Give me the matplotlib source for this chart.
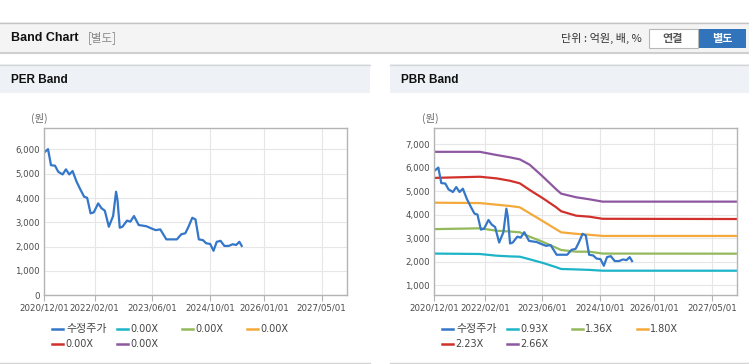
import pandas as pd
import matplotlib
matplotlib.use('Agg')
import matplotlib.pyplot as plt
import matplotlib.dates as mdates
from matplotlib.patches import Rectangle
from matplotlib.lines import Line2D

plt.rcParams['font.family'] = ['DejaVu Sans', 'Noto Sans CJK KR']

# 수정주가 (adjusted price)
price_dates = ['2020-12-09', '2021-01-04', '2021-01-29', '2021-03-04', '2021-03-31', '2021-05-07',
               '2021-06-04', '2021-07-02', '2021-07-30', '2021-09-02', '2021-10-06', '2021-11-05',
               '2021-11-30', '2021-12-29', '2022-01-25', '2022-03-03', '2022-03-31', '2022-04-28',
               '2022-06-01', '2022-07-07', '2022-08-01', '2022-08-13', '2022-09-01', '2022-09-24',
               '2022-11-01', '2022-11-30', '2022-12-30', '2023-02-08', '2023-04-14', '2023-05-26',
               '2023-07-01', '2023-08-09', '2023-09-29', '2023-11-10', '2023-12-27', '2024-02-02',
               '2024-03-07', '2024-04-03', '2024-05-05', '2024-06-01', '2024-06-29', '2024-08-02',
               '2024-08-30', '2024-10-03', '2024-10-31', '2024-11-27', '2024-12-29', '2025-01-31',
               '2025-03-08', '2025-04-11', '2025-05-10', '2025-06-06', '2025-06-26']
price_values = [5900, 6010, 5350, 5330, 5080, 4970, 5180, 4970, 5110, 4670, 4330, 4050,
                4010, 3370, 3410, 3780, 3580, 3480, 2820, 3260, 4260, 3920, 2780, 2820,
                3070, 3030, 3260, 2890, 2840, 2750, 2680, 2710, 2300, 2300, 2300, 2510,
                2550, 2820, 3190, 3120, 2300, 2270, 2140, 2110, 1830, 2200, 2240, 2030,
                2030, 2100, 2070, 2200, 2030]

# PBR band lines
band_dates = ['2020-12-01', '2021-12-20', '2022-05-10', '2022-08-30', '2022-11-22', '2023-02-14',
              '2023-06-06', '2023-09-25', '2023-11-06', '2024-03-12', '2024-07-01', '2024-10-21',
              '2027-12-01']
band_093 = [2350, 2332, 2260, 2230, 2217, 2106, 1950, 1770, 1694, 1675, 1655, 1621, 1620]
band_136 = [3390, 3425, 3323, 3290, 3255, 3068, 2844, 2597, 2502, 2430, 2430, 2350, 2345]
band_180 = [4515, 4500, 4430, 4375, 4319, 4064, 3725, 3383, 3255, 3190, 3150, 3100, 3100]
band_223 = [5570, 5620, 5550, 5450, 5340, 5055, 4700, 4320, 4150, 3962, 3919, 3830, 3820]
band_266 = [6680, 6680, 6545, 6447, 6360, 6130, 5620, 5085, 4900, 4745, 4660, 4560, 4560]

per_labels = ['수정주가', '0.00X', '0.00X', '0.00X', '0.00X', '0.00X']
pbr_labels = ['수정주가', '0.93X', '1.36X', '1.80X', '2.23X', '2.66X']
colors = ['#3477c9', '#1db4c8', '#93b95b', '#f4a93b', '#d1312c', '#8d58a0']

x_ticks = ['2020/12/01', '2022/02/01', '2023/06/01', '2024/10/01', '2026/01/01', '2027/05/01']
per_yticks = [0, 1000, 2000, 3000, 4000, 5000, 6000]
pbr_yticks = [1000, 2000, 3000, 4000, 5000, 6000, 7000]

W, H = 749, 364
fig = plt.figure(figsize=(W / 100, H / 100), dpi=100)


def fx(x):
    return x / W


def fy(y):
    return 1 - y / H


def box(x0, y0, x1, y1, color, z=0):
    fig.add_artist(Rectangle((fx(x0), fy(y1)), (x1 - x0) / W, (y1 - y0) / H,
                             transform=fig.transFigure, facecolor=color, edgecolor='none', zorder=z))


def hline(x0, x1, y, color, lw=1.0):
    fig.add_artist(Line2D([fx(x0), fx(x1)], [fy(y), fy(y)], transform=fig.transFigure,
                          color=color, lw=lw))


# top bar
box(0, 22, W, 53, '#f4f4f4')
hline(0, W, 22.5, '#c4c4c4')
hline(0, W, 53, '#cfcfcf', 1.5)
fig.text(fx(11), fy(38), 'Band Chart', fontsize=9, fontweight='bold', family='Liberation Sans',
         va='center', ha='left', color='#111111')
fig.text(fx(88), fy(38), '[별도]', fontsize=8.3, va='center', ha='left', color='#888888',
         family=['Noto Sans CJK KR'])
fig.text(fx(642), fy(38), '단위 : 억원, 배, %', fontsize=8, va='center', ha='right', color='#333333',
         family=['Noto Sans CJK KR'])
fig.add_artist(Rectangle((fx(649), fy(48)), 49 / W, 19 / H, transform=fig.transFigure,
                         facecolor='white', edgecolor='#b8b8b8', lw=0.8))
fig.text(fx(673), fy(38.5), '연결', fontsize=8, fontweight='bold', va='center', ha='center',
         color='#555555', family=['Noto Sans CJK KR'])
box(698, 29, 746, 48, '#3274bb')
fig.text(fx(722), fy(38.5), '별도', fontsize=8, fontweight='bold', va='center', ha='center',
         color='white', family=['Noto Sans CJK KR'])

# panels
for px0, px1, title in [(0, 370, 'PER Band'), (390, W, 'PBR Band')]:
    box(px0, 64, px1, 93, '#eef2f7')
    hline(px0, px1, 64.5, '#d6d6d6')
    hline(px0, px1, 363, '#d4d4d4', 1.0)
    fig.text(fx(px0 + 11), fy(80), title, fontsize=8.5, fontweight='bold', family='Liberation Sans',
             va='center', ha='left', color='#111111')

price_x = pd.to_datetime(price_dates)
band_x = pd.to_datetime(band_dates)
bands = [band_093, band_136, band_180, band_223, band_266]


def setup(ax, yticks, ylim):
    ax.set_xlim(pd.Timestamp('2020-12-01'), pd.Timestamp('2027-12-01'))
    ax.set_ylim(*ylim)
    ax.set_xticks(pd.to_datetime(x_ticks))
    ax.xaxis.set_major_formatter(mdates.DateFormatter('%Y/%m/%d'))
    ax.set_yticks(yticks)
    ax.set_yticklabels([f'{v:,}' for v in yticks])
    ax.grid(True, color='#e6e6e6', lw=0.8)
    ax.set_axisbelow(True)
    for s in ax.spines.values():
        s.set_color('#b4b4b4')
        s.set_linewidth(1.0)
    ax.tick_params(axis='x', length=4, color='#b4b4b4', labelsize=6.2, labelcolor='#4a4a4a', pad=2)
    ax.tick_params(axis='y', length=0, labelsize=6.2, labelcolor='#4a4a4a', pad=3)


ax1 = fig.add_axes([fx(44), fy(295.3), 303 / W, 167.3 / H])
setup(ax1, per_yticks, (0, 6880))
ax1.plot(price_x, price_values, color=colors[0], lw=1.6)

ax2 = fig.add_axes([fx(434.3), fy(295.3), 303 / W, 167.3 / H])
setup(ax2, pbr_yticks, (574, 7694))
for vals, c in zip(bands, colors[1:]):
    ax2.plot(band_x, vals, color=c, lw=1.6)
ax2.plot(price_x, price_values, color=colors[0], lw=1.6)

fig.text(fx(39), fy(118), '(원)', fontsize=7.5, ha='center', va='center', color='#666666',
         family=['Noto Sans CJK KR'])
fig.text(fx(430), fy(118), '(원)', fontsize=7.5, ha='center', va='center', color='#666666',
         family=['Noto Sans CJK KR'])

# legends
for off, labels in [(0, per_labels), (390, pbr_labels)]:
    for i, (lab, c) in enumerate(zip(labels, colors)):
        x0 = off + 52.3 + 65 * (i % 4)
        y0 = 329 + 15 * (i // 4)
        fig.add_artist(Line2D([fx(x0), fx(x0 + 11)], [fy(y0), fy(y0)], transform=fig.transFigure,
                              color=c, lw=1.8))
        if lab == '수정주가':
            fig.text(fx(x0 + 14), fy(y0), lab, fontsize=7.9, va='center', ha='left', color='#444444',
                     family=['Noto Sans CJK KR'])
        else:
            fig.text(fx(x0 + 13), fy(y0), lab, fontsize=7, va='center', ha='left', color='#444444')

fig.savefig('out.png', dpi=100)
